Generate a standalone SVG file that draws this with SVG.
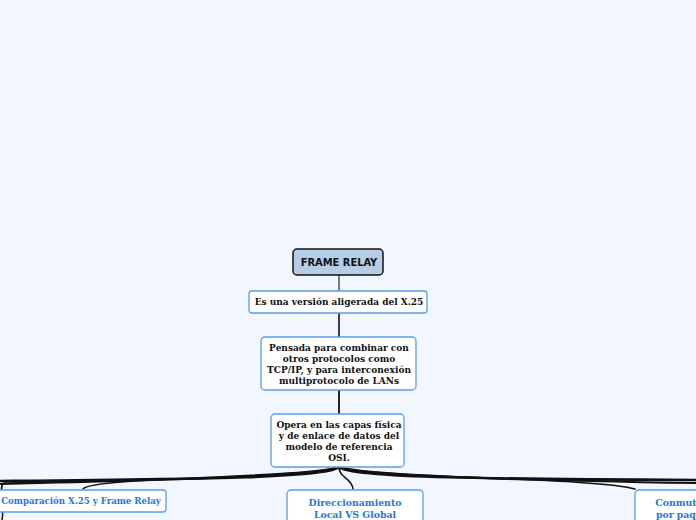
<svg xmlns="http://www.w3.org/2000/svg" width="696" height="520" viewBox="0 0 696 520">
<style>
.bg{fill:#f2f6fe}
.node{fill:#ffffff;stroke:#5a9ee8;stroke-width:1.3}
.root{fill:#b7cde6;stroke:#111;stroke-width:1.5}
.t{font-family:"DejaVu Serif","Liberation Serif",serif;font-weight:bold;font-size:9px;fill:#111;text-anchor:middle}
.tb{font-family:"DejaVu Serif","Liberation Serif",serif;font-weight:bold;font-size:8.6px;fill:#1d78dc;text-anchor:middle}
.tb2{font-family:"DejaVu Serif","Liberation Serif",serif;font-weight:bold;font-size:9.3px;fill:#1d78dc;text-anchor:middle}
.rt{font-family:"DejaVu Sans Condensed","DejaVu Sans",sans-serif;font-weight:bold;font-size:11px;fill:#111;text-anchor:middle}
.c{fill:none;stroke:#111;stroke-linecap:round}
</style>
<rect class="bg" x="0" y="0" width="696" height="520"/>
<g id="connectors">
<path class="c" stroke-width="1.1" d="M339 275 L339 291"/>
<path class="c" stroke-width="1.6" d="M339 313 L339 337"/>
<path class="c" stroke-width="1.8" d="M339 390 L339 414"/>
<path class="c" stroke-width="2.6" d="M339 467 C330 478 200 479 0 481"/>
<path class="c" stroke-width="2" d="M339 467 C320 476 180 480 0 484"/>
<path class="c" stroke-width="1.5" d="M339 467 C300 478 90 477 83 489"/>
<path class="c" stroke-width="1.5" d="M339 467 C320 480 20 482 4 483 C-2 485 5 505 2 520"/>
<path class="c" stroke-width="1.6" d="M339 467 C339 478 352 478 353 489"/>
<path class="c" stroke-width="2.6" d="M339 467 C350 478 500 479 696 480"/>
<path class="c" stroke-width="2" d="M339 467 C360 476 520 480 696 483"/>
<path class="c" stroke-width="1.5" d="M339 467 C380 478 600 478 635 489"/>
</g>
<g id="n-root">
<rect class="root" x="293" y="249" width="90" height="26" rx="4"/>
<text class="rt" x="339" y="266">FRAME RELAY</text>
</g>
<g id="n-version">
<rect class="node" x="249" y="291" width="178" height="22" rx="3"/>
<text class="t" x="339" y="305">Es una versión aligerada del X.25</text>
</g>
<g id="n-pensada">
<rect class="node" x="261" y="337" width="155" height="53" rx="4"/>
<text class="t" x="339" y="350.5">Pensada para combinar con</text>
<text class="t" x="339" y="361.5">otros protocolos como</text>
<text class="t" x="339" y="372.5">TCP/IP, y para interconexión</text>
<text class="t" x="339" y="383.5">multiprotocolo de LANs</text>
</g>
<g id="n-opera">
<rect class="node" x="271" y="414" width="133" height="53" rx="4"/>
<text class="t" x="339" y="427.5">Opera en las capas física</text>
<text class="t" x="339" y="438.5">y de enlace de datos del</text>
<text class="t" x="339" y="449.5">modelo de referencia</text>
<text class="t" x="339" y="460.5">OSI.</text>
</g>
<g id="n-comparacion">
<rect class="node" x="-6" y="490" width="172" height="22" rx="3"/>
<text class="tb" x="81" y="504">Comparación X.25 y Frame Relay</text>
</g>
<g id="n-direccionamiento">
<rect class="node" x="287" y="490" width="136" height="45" rx="4"/>
<text class="tb2" x="355" y="505.5">Direccionamiento</text>
<text class="tb2" x="355" y="517.5">Local VS Global</text>
</g>
<g id="n-conmutacion">
<rect class="node" x="635" y="490" width="110" height="45" rx="4"/>
<text class="tb2" x="690" y="505.5">Conmutación</text>
<text class="tb2" x="690" y="517.5">por paquetes</text>
</g>
</svg>
